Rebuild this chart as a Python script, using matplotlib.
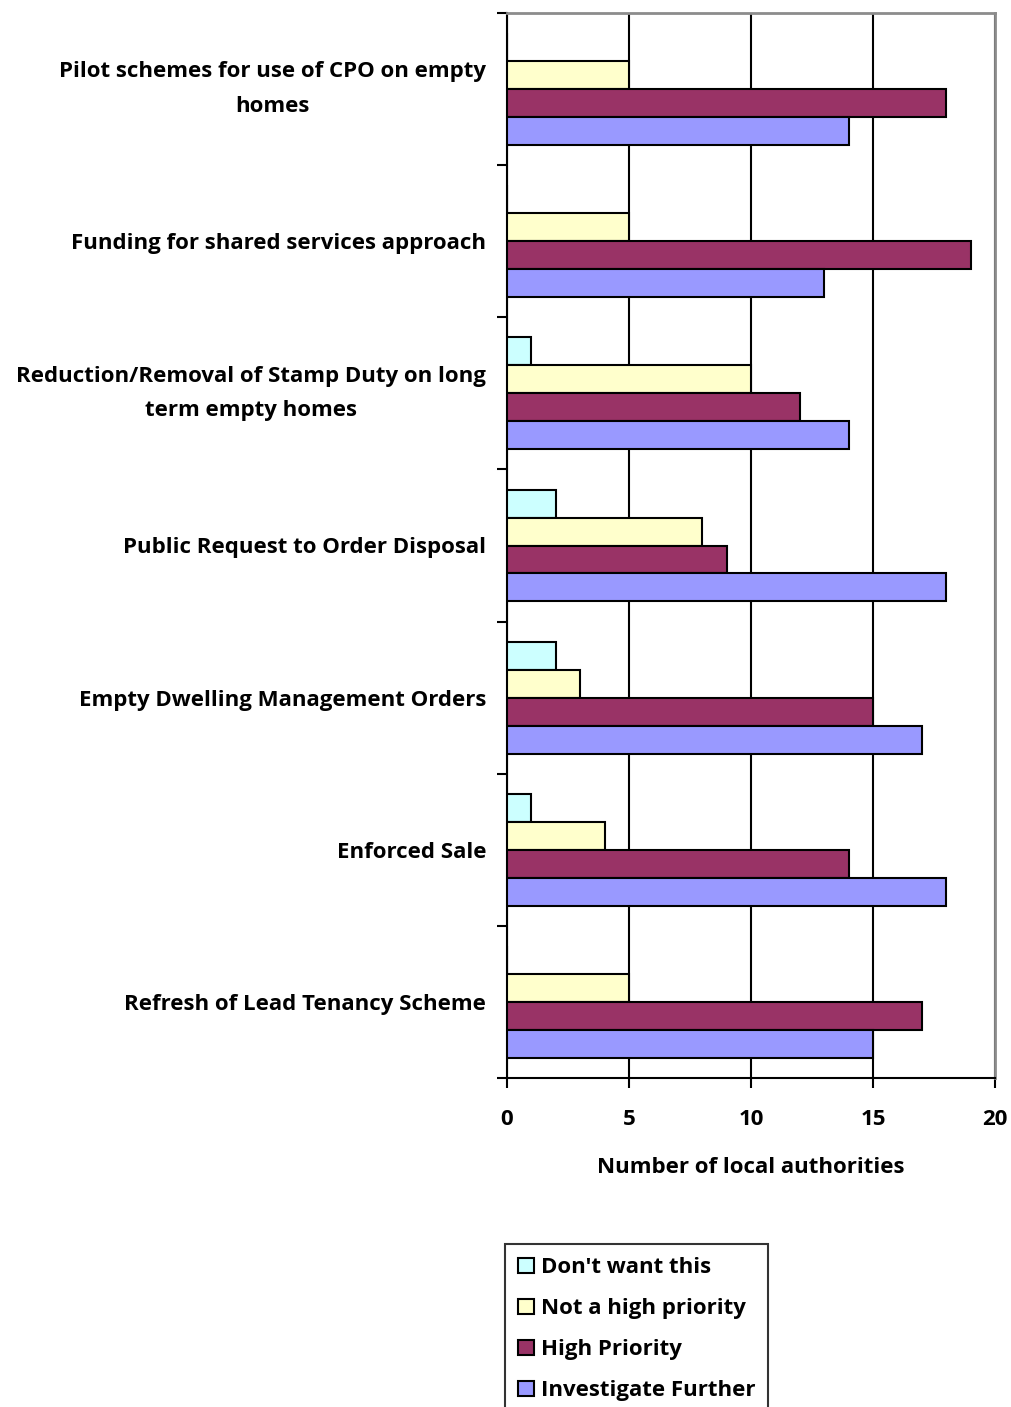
import matplotlib
matplotlib.use("Agg")
import matplotlib.pyplot as plt
import numpy as np

categories = [
    "Pilot schemes for use of CPO on empty\nhomes",
    "Funding for shared services approach",
    "Reduction/Removal of Stamp Duty on long\nterm empty homes",
    "Public Request to Order Disposal",
    "Empty Dwelling Management Orders",
    "Enforced Sale",
    "Refresh of Lead Tenancy Scheme",
]
series_names = ["Don't want this", "Not a high priority", "High Priority", "Investigate Further"]
dont_want = [0, 0, 1, 2, 2, 1, 0]
not_high = [5, 5, 10, 8, 3, 4, 5]
high = [18, 19, 12, 9, 15, 14, 17]
investigate = [14, 13, 14, 18, 17, 18, 15]
colors = ["#CCFFFF", "#FFFFCC", "#993366", "#9999FF"]
x_ticks = [0, 5, 10, 15, 20]

plt.rcParams['font.family'] = ['Open Sans', 'DejaVu Sans']
plt.rcParams['font.weight'] = 'bold'
FS = 16

fig = plt.figure(figsize=(10.11, 14.07), dpi=100)
W, H = 1011, 1407
left, right, top, bottom = 507, 995, 13, 1078
ax = fig.add_axes([left / W, 1 - bottom / H, (right - left) / W, (bottom - top) / H])

n = len(categories)
centers = np.arange(n) + 0.5
bh = 0.184
all_series = [dont_want, not_high, high, investigate]
for k, (vals, col, name) in enumerate(zip(all_series, colors, series_names)):
    ypos = centers + (k - 1.5) * bh
    ax.barh(ypos, vals, height=bh, color=col, edgecolor="black", linewidth=1.5,
            label=name, zorder=3)

ax.set_xlim(0, 20)
ax.set_ylim(n, 0)
ax.set_xticks(x_ticks)
ax.set_xticklabels([str(t) for t in x_ticks], fontsize=FS, fontweight='bold')
ax.set_yticks(np.arange(n + 1))
ax.set_yticklabels([])
ax.set_yticks(centers, minor=True)
ax.set_yticklabels(categories, minor=True, fontsize=FS, fontweight='bold',
                   ha='right', multialignment='center', linespacing=1.85)
# two-line labels are centred on their group as a block
for lbl in ax.get_yticklabels(minor=True):
    if "\n" in lbl.get_text():
        lbl.set_verticalalignment('center')
ax.tick_params(axis='y', which='minor', length=0, pad=15)
ax.tick_params(axis='y', which='major', length=7, width=1.5, direction='out')
ax.tick_params(axis='x', length=7, width=1.5, direction='out', pad=15)
ax.grid(axis='x', color='black', linewidth=1.5, zorder=0)
ax.set_axisbelow(True)

for s in ['left', 'bottom']:
    ax.spines[s].set_color('black')
    ax.spines[s].set_linewidth(1.5)
for s in ['top', 'right']:
    ax.spines[s].set_color('#8c8c8c')
    ax.spines[s].set_linewidth(2)

ax.set_xlabel("Number of local authorities", fontsize=FS, fontweight='bold', labelpad=20)

leg = fig.legend(loc='upper left', bbox_to_anchor=(505 / W, 1 - 1244 / H),
                 prop={'size': FS, 'weight': 'bold'}, frameon=True, fancybox=False,
                 edgecolor='black', handlelength=0.7, handleheight=0.7,
                 handletextpad=0.3, labelspacing=0.9, borderpad=0.6, borderaxespad=0)
leg.get_frame().set_linewidth(1.5)

fig.savefig("out.png", dpi=100)
